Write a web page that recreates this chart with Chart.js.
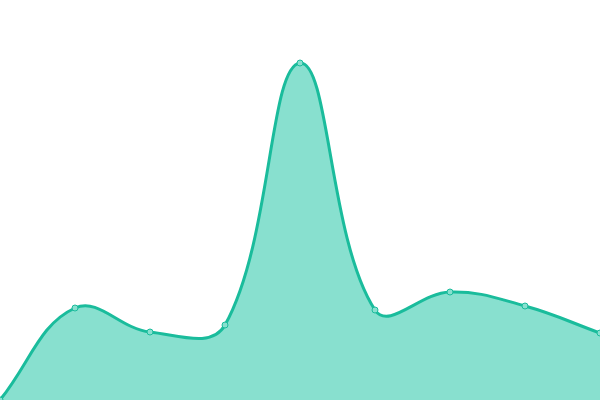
<!DOCTYPE html>
<html>
<head>
<meta charset="utf-8">
<script src="https://cdn.jsdelivr.net/npm/chart.js@4"></script>
<style>
html,body{margin:0;padding:0;background:#fff;}
#wrap{width:600px;height:400px;}
</style>
</head>
<body>
<div id="wrap"><canvas id="c" width="600" height="400"></canvas></div>
<script>
const categories = ['1','2','3','4','5','6','7','8','9'];
const values = [0, 23, 17, 18.75, 84.25, 22.5, 27, 23.5, 16.75];
const yMin = 0;
const yMax = 100;

new Chart(document.getElementById('c'), {
  type: 'line',
  data: {
    labels: categories,
    datasets: [{
      data: values,
      borderColor: '#1abc9c',
      backgroundColor: '#88e0cf',
      borderWidth: 3,
      fill: true,
      tension: 0.4,
      pointRadius: 3,
      pointBorderWidth: 1,
      pointBackgroundColor: '#88e0cf',
      pointBorderColor: '#1abc9c'
    }]
  },
  options: {
    responsive: false,
    animation: false,
    layout: { padding: 0, autoPadding: false },
    plugins: { legend: { display: false }, tooltip: { enabled: false } },
    scales: {
      x: { display: false, offset: false },
      y: { display: false, min: yMin, max: yMax }
    }
  }
});
</script>
</body>
</html>
